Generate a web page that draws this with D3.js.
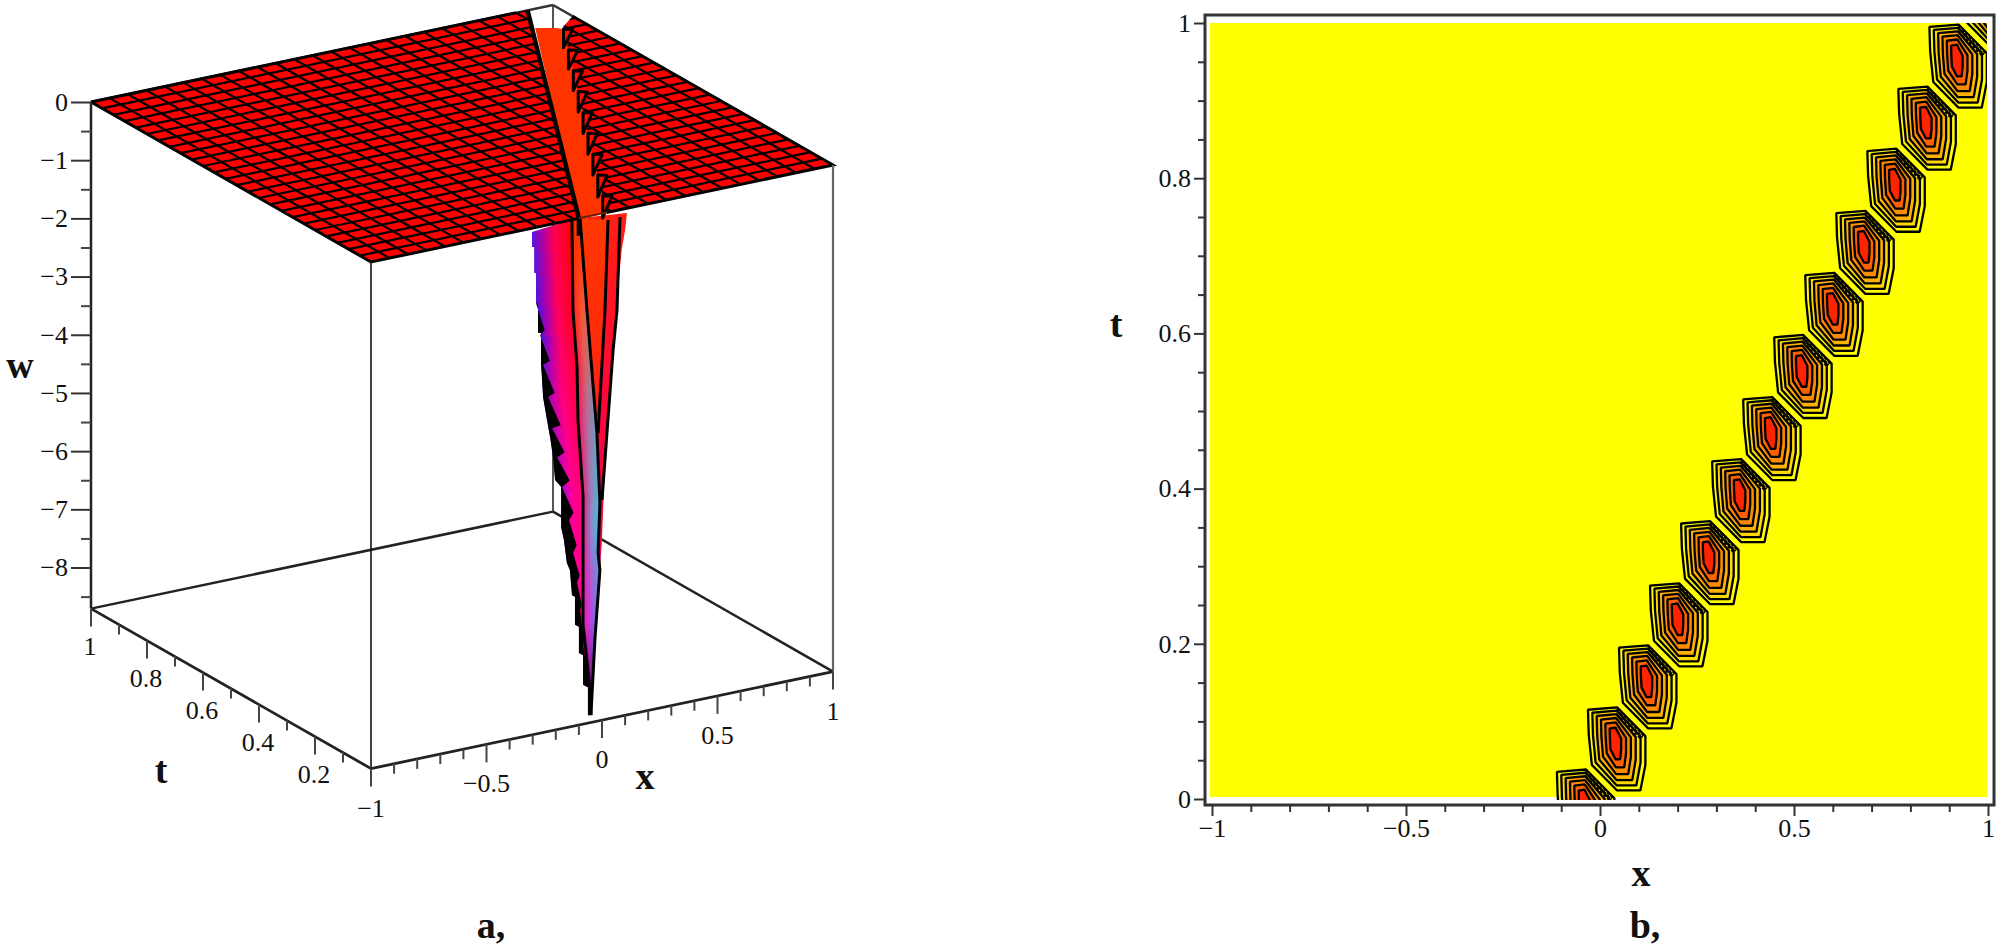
<!DOCTYPE html>
<meta charset="utf-8">
<style>
  body { margin: 0; background: #fff; }
  text { font-family: "Liberation Serif", serif; fill: #111; }
  .big { font-weight: bold; font-size: 38px; }
  .tick text { font-family: "Liberation Serif", serif; font-size: 26px; fill: #111; }
</style>
<body>
<script src="https://cdn.jsdelivr.net/npm/d3@7"></script>
<script>
// ----- data -----
var xTicks = [-1, -0.5, 0, 0.5, 1];
var xMinor = [-0.9, -0.8, -0.7, -0.6, -0.4, -0.3, -0.2, -0.1, 0.1, 0.2, 0.3, 0.4, 0.6, 0.7, 0.8, 0.9];
var tTicks3d = [0.2, 0.4, 0.6, 0.8, 1];
var tMinor3d = [0.1, 0.3, 0.5, 0.7, 0.9];
var wTicks = [0, -1, -2, -3, -4, -5, -6, -7, -8];
var wMinor = [-0.5, -1.5, -2.5, -3.5, -4.5, -5.5, -6.5, -7.5, -8.5];
var tTicks = [0, 0.2, 0.4, 0.6, 0.8, 1];
var tMinor = [0.05, 0.1, 0.15, 0.25, 0.3, 0.35, 0.45, 0.5, 0.55, 0.65, 0.7, 0.75, 0.85, 0.9, 0.95];

// surface mesh nodes (25 x 25 cells)
var meshX = [-1, -0.92, -0.84, -0.76, -0.68, -0.6, -0.52, -0.44, -0.36, -0.28, -0.2, -0.12, -0.04, 0.04, 0.12, 0.2, 0.28, 0.36, 0.44, 0.52, 0.6, 0.68, 0.76, 0.84, 0.92, 1];
var meshT = [0, 0.04, 0.08, 0.12, 0.16, 0.2, 0.24, 0.28, 0.32, 0.36, 0.4, 0.44, 0.48, 0.52, 0.56, 0.6, 0.64, 0.68, 0.72, 0.76, 0.8, 0.84, 0.88, 0.92, 0.96, 1];

// trough banks on the sheet (x, t)
var leftBankX = [-1, -1, -0.1, 0.89], leftBankT = [1, 0, 0, 1];
var rightBankX = [0.02, 1, 1, 0.91], rightBankT = [0, 0, 0.93, 0.89];
var stripeX = [0.816, 0.879, 0.9, 0.03, -0.1], stripeT = [0.912, 0.893, 0.88, 0, 0];

// spike outline, as depth w against x in the t = 0 plane
var outerLeftX = [-.303, -.303, -.294, -.294, -.286, -.286, -.277, -.277, -.264, -.264, -.255, -.238, -.225, -.212, -.203, -.177, -.177, -.165, -.152, -.139, -.130, -.117, -.117, -.100, -.100, -.082, -.082, -.061, -.061, -.048];
var outerLeftW = [-.065, -.323, -.330, -.777, -.785, -1.30, -1.31, -1.82, -1.83, -2.35, -2.94, -3.35, -3.65, -4.01, -4.41, -4.55, -5.24, -5.47, -5.88, -6.01, -6.45, -6.49, -6.97, -7.02, -7.47, -7.52, -8.03, -8.09, -8.57, -8.58];
var outerRightX = [-.048, -.043, -.030, -.009, -.001, .013, .026, .035, .052, .065, .074, .085, .100, .108];
var outerRightW = [-8.58, -8.10, -7.25, -6.12, -5.66, -4.30, -3.57, -3.23, -2.10, -1.54, -1.16, -.70, -.37, -.08];
var line1X = [-.130, -.126, -.108, -.104, -.082, -.082, -.082, -.082, -.052, -.048];
var line1W = [0, -1.55, -2.55, -3.46, -4.80, -5.74, -6.06, -7.00, -8.14, -8.58];
var line2X = [-.095, -.065, -.022, -.009, -.017, -.009, -.030, -.048];
var line2W = [0, -1.61, -3.75, -4.97, -5.82, -6.12, -7.25, -8.58];
var line3X = [.026, .013, -.017];
var line3W = [-.134, -1.67, -3.76];
var line4X = [.078, .065, .048, 0];
var line4W = [-.126, -1.71, -2.39, -4.92];
// inner edge of the black teeth on the left of the spike
var teethX = [-.286, -.248, -.268, -.226, -.255, -.205, -.233, -.179, -.216, -.162, -.194, -.140, -.173, -.123, -.143, -.110, -.125, -.097, -.108, -.087, -.095, -.078, -.082, -.065, -.048];
var teethW = [-1.30, -1.80, -1.87, -2.34, -2.39, -2.91, -2.96, -3.49, -3.51, -3.97, -4.03, -4.47, -4.56, -5.04, -5.15, -5.61, -5.73, -6.14, -6.25, -6.66, -6.74, -7.27, -7.35, -7.79, -8.58];

// little fins on the right bank of the trough
var finX = [.90, .80, .70, .60, .50, .40, .30, .20, .10];
var finT = [.88, .78, .68, .58, .48, .38, .28, .18, .08];
var finW = [-.32, -.33, -.34, -.35, -.36, -.36, -.36, -.38, -.38];

// panel b: one blob per grid period along the ridge
var blobX = [-.036, .044, .124, .204, .284, .364, .444, .524, .604, .684, .764, .844, .924, 1.004];
var blobT = [-.014, .066, .146, .226, .306, .386, .466, .546, .626, .706, .786, .866, .946, 1.026];
var ringDx = [-.075, 0, .073, .073, .06, 0, -.065, -.073];
var ringDt = [.049, .052, .015, -.022, -.055, -.055, -.022, .017];
var ringLevel = [1, .84, .68, .52, .36, .2];
var ringFill = ["#ffff00", "#ffd800", "#ffb000", "#ff8c00", "#ff6000", "#ff2400"];
var hatchLevel = [.97, .9, .82];

// ----- svg -----
var svg = d3.select("body").append("svg").attr("width", 2000).attr("height", 945);
var defs = svg.append("defs");
var path = d3.line();
function closed(pts) { return path(pts) + "Z"; }

// ----- panel a: parallel projection of (x, t, w) -----
var xToPx = d3.scaleLinear().domain([-1, 1]).range([371, 833]);
var xToPy = d3.scaleLinear().domain([-1, 1]).range([262, 165]);
var tToPx = d3.scaleLinear().domain([0, 1]).range([0, -280]);
var tToPy = d3.scaleLinear().domain([0, 1]).range([0, -160]);
var wToPy = d3.scaleLinear().domain([0, -8.706]).range([0, 506.6]);
var wMin = -8.706;
function proj(x, t, w) { return [xToPx(x) + tToPx(t), xToPy(x) + tToPy(t) + wToPy(w)]; }
function pts2(xs, ts) { return xs.map(function(x, i) { return proj(x, ts[i], 0); }); }
function section(xs, ws) { return xs.map(function(x, i) { return proj(x, 0, ws[i]); }); }

var a = svg.append("g");
function seg(p, q, color, width) {
  a.append("path").attr("d", path([p, q])).attr("stroke", color).attr("stroke-width", width).attr("fill", "none");
}

// back of the box
seg(proj(1, 1, 0), proj(1, 1, wMin), "#555", 2);
seg(proj(-1, 1, 0), proj(1, 1, 0), "#333", 2.5);
seg(proj(1, 1, 0), proj(1, 0, 0), "#333", 2.5);
seg(proj(-1, 1, wMin), proj(1, 1, wMin), "#222", 2.5);
seg(proj(1, 1, wMin), proj(1, 0, wMin), "#222", 2.5);

// orange trough floor seen from above
a.append("path").attr("d", closed(pts2(stripeX, stripeT))).attr("fill", "#ff3300");

// spike faces
var rightGrad = defs.append("linearGradient").attr("id", "faceD").attr("x1", 0).attr("x2", 0).attr("y1", 0).attr("y2", 1);
[[0, "#ff2010"], [.35, "#ff0838"], [.7, "#f00050"], [1, "#c00050"]].forEach(function(s) {
  rightGrad.append("stop").attr("offset", s[0]).attr("stop-color", s[1]);
});
a.append("path").attr("d", closed(section(line2X, line2W).concat(section(outerRightX, outerRightW)))).attr("fill", "url(#faceD)");

var cGrad = defs.append("linearGradient").attr("id", "faceC").attr("x1", 0).attr("x2", 0).attr("y1", 0).attr("y2", 1);
cGrad.append("stop").attr("offset", 0).attr("stop-color", "#ff3800");
cGrad.append("stop").attr("offset", 1).attr("stop-color", "#ff2010");
a.append("path").attr("d", closed(section(line2X.slice(0, 3), line2W.slice(0, 3)).concat(section(line3X, line3W).reverse()))).attr("fill", "url(#faceC)");

// colour changes with depth: banded strips, each with its own left-right gradient
function bandedFace(id, leftPts, rightPts, offsets, depths, colors) {
  defs.append("clipPath").attr("id", id + "Clip").append("path")
    .attr("d", closed(leftPts.concat(rightPts.slice().reverse())));
  var leftX = d3.scaleLinear().domain(leftPts.map(function(p) { return p[1]; })).range(leftPts.map(function(p) { return p[0]; })).clamp(true);
  var rightX = d3.scaleLinear().domain(rightPts.map(function(p) { return p[1]; })).range(rightPts.map(function(p) { return p[0]; })).clamp(true);
  var stopScales = offsets.map(function(o, k) {
    return d3.scaleLinear().domain(depths).range(colors.map(function(c) { return c[k]; })).clamp(true);
  });
  var g = a.append("g").attr("clip-path", "url(#" + id + "Clip)");
  d3.range(216, 716, 6).forEach(function(y, n) {
    var gid = id + "Band" + n, grad = defs.append("linearGradient").attr("id", gid);
    var depth = wToPy.invert(y - 216);
    offsets.forEach(function(o, k) {
      grad.append("stop").attr("offset", o).attr("stop-color", stopScales[k](depth));
    });
    var x0 = Math.min(leftX(y), leftX(y + 6)), x1 = Math.max(rightX(y), rightX(y + 6)) + 1;
    g.append("rect").attr("x", x0).attr("y", y).attr("width", Math.max(1, x1 - x0)).attr("height", 6.5).attr("fill", "url(#" + gid + ")");
  });
}
bandedFace("faceA", section(outerLeftX, outerLeftW), section(line1X, line1W), [0, .28, .55, 1],
  [-.27, -1.96, -4.02, -6.6, -8.57],
  [["#5818e0", "#b000a0", "#ff0050", "#ff0008"],
   ["#4c10e0", "#b400a8", "#ff0060", "#ff0020"],
   ["#6a20d8", "#d000b0", "#ff0090", "#ff0060"],
   ["#a020d0", "#f000c0", "#ff0090", "#ff00a0"],
   ["#400040", "#400040", "#400040", "#400040"]]);
bandedFace("faceB", section(line1X, line1W), section(line2X, line2W), [0, .5, 1],
  [-.27, -1.6, -3.5, -5.2, -6.9, -8.57],
  [["#ff3000", "#ff3000", "#ff3800"],
   ["#ff2010", "#ff5030", "#c87060"],
   ["#ff1060", "#b070a0", "#60a0c8"],
   ["#e02090", "#8890c8", "#30c8e8"],
   ["#ff10b0", "#c040e0", "#6080e8"],
   ["#500060", "#500060", "#300060"]]);

// black teeth on the left edge
var outerFrom = outerLeftW.findIndex(function(w) { return w <= -1.30; });
a.append("path").attr("d", closed(section(outerLeftX.slice(outerFrom), outerLeftW.slice(outerFrom)).concat(section(teethX, teethW).reverse()))).attr("fill", "#000");

// black mesh lines running down the spike
[[line1X, line1W], [line2X, line2W], [line3X, line3W], [line4X, line4W]].forEach(function(l) {
  a.append("path").attr("d", path(section(l[0], l[1]))).attr("fill", "none").attr("stroke", "#000").attr("stroke-width", 3);
});

// sheet at w = 0, clipped to each bank of the trough
defs.append("clipPath").attr("id", "leftBank").append("path").attr("d", closed(pts2(leftBankX, leftBankT)));
defs.append("clipPath").attr("id", "rightBank").append("path").attr("d", closed(pts2(rightBankX, rightBankT)));

["leftBank", "rightBank"].forEach(function(id) {
  var g = a.append("g").attr("clip-path", "url(#" + id + ")");
  g.append("path").attr("d", closed([proj(-1, 0, 0), proj(1, 0, 0), proj(1, 1, 0), proj(-1, 1, 0)])).attr("fill", "#ff0000");
  meshX.forEach(function(x) {
    g.append("path").attr("d", path([proj(x, 0, 0), proj(x, 1, 0)])).attr("stroke", "#000").attr("stroke-width", 2.2).attr("fill", "none");
  });
  meshT.forEach(function(t) {
    g.append("path").attr("d", path([proj(-1, t, 0), proj(1, t, 0)])).attr("stroke", "#000").attr("stroke-width", 2.2).attr("fill", "none");
  });
});

// sheet outline
a.append("path").attr("d", path([proj(-1, 1, 0), proj(-1, 0, 0), proj(-0.1, 0, 0)])).attr("fill", "none").attr("stroke", "#000").attr("stroke-width", 3);
a.append("path").attr("d", path([proj(-1, 1, 0), proj(0.84, 1, 0)])).attr("fill", "none").attr("stroke", "#000").attr("stroke-width", 3);
a.append("path").attr("d", path([proj(0.02, 0, 0), proj(1, 0, 0), proj(1, 0.93, 0)])).attr("fill", "none").attr("stroke", "#000").attr("stroke-width", 3);

// fins on the right bank
finX.forEach(function(x, i) {
  a.append("path")
    .attr("d", closed([proj(x, finT[i], 0), proj(x, finT[i], finW[i]), proj(x + .04, finT[i], -.04)]))
    .attr("fill", "#ff1000").attr("stroke", "#000").attr("stroke-width", 3).attr("stroke-linejoin", "round");
});

// steep left bank and its end at the front edge
a.append("path").attr("d", path([proj(0.89, 1, 0), proj(-0.1, 0, 0), proj(-0.1, 0, -0.3)])).attr("fill", "none").attr("stroke", "#000").attr("stroke-width", 4.5);
seg(proj(-0.1, 0, 0), proj(0.02, 0, 0), "#702000", 2);

// front of the box
seg(proj(-1, 0, 0), proj(-1, 0, wMin), "#111", 1.6);
seg(proj(1, 0, 0), proj(1, 0, wMin), "#666", 2.2);
seg(proj(-1, 1, 0), proj(-1, 1, wMin), "#222", 2.5);
seg(proj(-1, 1, wMin), proj(-1, 0, wMin), "#222", 2.8);
seg(proj(-1, 0, wMin), proj(1, 0, wMin), "#222", 2.8);

// w axis on the left edge
var wScale = d3.scaleLinear().domain([0, wMin]).range([proj(-1, 1, 0)[1], proj(-1, 1, wMin)[1]]);
var wAxis = svg.append("g").attr("transform", "translate(" + proj(-1, 1, 0)[0] + ",0)")
  .call(d3.axisLeft(wScale).tickValues(wTicks).tickSize(20).tickPadding(3).tickFormat(d3.format("d")));
wAxis.select(".domain").remove();
wAxis.selectAll("line").attr("stroke", "#333").attr("stroke-width", 2);
var wAxis2 = svg.append("g").attr("transform", "translate(" + proj(-1, 1, 0)[0] + ",0)")
  .call(d3.axisLeft(wScale).tickValues(wMinor).tickSize(10).tickFormat(""));
wAxis2.select(".domain").remove();
wAxis2.selectAll("line").attr("stroke", "#444").attr("stroke-width", 2);

var fmt = function(d) { return d % 1 ? d3.format(".1f")(d) : d3.format("d")(d); };

// ticks hanging from the floor edges
function hang(p, len) { seg(p, [p[0], p[1] + len], "#444", 2); }
xTicks.forEach(function(x) {
  var p = proj(x, 0, wMin);
  hang(p, 18);
  a.append("text").attr("x", p[0]).attr("y", p[1] + 18 + 21).attr("dy", ".35em").attr("text-anchor", "middle").attr("font-size", 26).text(fmt(x));
});
xMinor.forEach(function(x) { hang(proj(x, 0, wMin), 10); });
tTicks3d.forEach(function(t) {
  var p = proj(-1, t, wMin);
  hang(p, 18);
  a.append("text").attr("x", p[0] - 1).attr("y", p[1] + 18 + 19).attr("dy", ".35em").attr("text-anchor", "middle").attr("font-size", 26).text(fmt(t));
});
tMinor3d.forEach(function(t) { hang(proj(-1, t, wMin), 10); });

// titles panel a
svg.append("text").attr("class", "big").attr("x", 20).attr("y", 367).attr("dy", ".3em").attr("text-anchor", "middle").text("w");
svg.append("text").attr("class", "big").attr("x", 161).attr("y", 783).attr("text-anchor", "middle").text("t");
svg.append("text").attr("class", "big").attr("x", 645).attr("y", 789).attr("text-anchor", "middle").text("x");
svg.append("text").attr("class", "big").attr("x", 491).attr("y", 938).attr("text-anchor", "middle").text("a,");

// ----- panel b -----
var x = d3.scaleLinear().domain([-1, 1]).range([1212, 1988]);
var y = d3.scaleLinear().domain([0, 1]).range([799, 23]);
var fx0 = 1205, fx1 = 1994, fy0 = 15, fy1 = 805;

svg.append("rect").attr("x", 1210).attr("y", y(1)).attr("width", 777).attr("height", y(0) - y(1) - 2).attr("fill", "#ffff00");
defs.append("clipPath").attr("id", "plotB").append("rect").attr("x", 1210).attr("y", y(1)).attr("width", 777).attr("height", y(0) - y(1) + 1);

var b = svg.append("g").attr("clip-path", "url(#plotB)");
blobX.forEach(function(cx, n) {
  var cy = blobT[n], g = b.append("g");
  ringLevel.forEach(function(k, r) {
    // inner rings get narrow faster than they get short, so the core is a tall streak
    var ky = Math.pow(k, 0.6);
    var pts = ringDx.map(function(dx, i) {
      return [x(cx - .005 + (dx + .005) * k), y(cy + .01 + (ringDt[i] - .01) * ky)];
    });
    g.append("path").attr("d", closed(pts)).attr("fill", ringFill[r]).attr("stroke", "#000").attr("stroke-width", 2.3).attr("stroke-linejoin", "bevel");
  });
  // dense contour lines at the upper right corner
  hatchLevel.forEach(function(k) {
    var p = [x(cx + ringDx[1] * k), y(cy + ringDt[1] * k)], q = [x(cx + ringDx[2] * k), y(cy + ringDt[2] * k)];
    g.append("path").attr("d", path([p, q])).attr("stroke", "#000").attr("stroke-width", 2).attr("stroke-dasharray", "3,2").attr("fill", "none");
  });
});

svg.append("rect").attr("x", fx0).attr("y", fy0).attr("width", fx1 - fx0).attr("height", fy1 - fy0).attr("fill", "none").attr("stroke", "#333").attr("stroke-width", 3);

var xa = svg.append("g").attr("transform", "translate(0," + fy1 + ")").call(d3.axisBottom(x).tickValues(xTicks).tickSize(11).tickPadding(3).tickFormat(fmt));
var xb = svg.append("g").attr("transform", "translate(0," + fy1 + ")").call(d3.axisBottom(x).tickValues(xMinor).tickSize(7).tickFormat(""));
var ya = svg.append("g").attr("transform", "translate(" + fx0 + ",0)").call(d3.axisLeft(y).tickValues(tTicks).tickSize(11).tickPadding(3).tickFormat(fmt));
var yb = svg.append("g").attr("transform", "translate(" + fx0 + ",0)").call(d3.axisLeft(y).tickValues(tMinor).tickSize(7).tickFormat(""));
[xa, xb, ya, yb].forEach(function(ax) {
  ax.select(".domain").remove();
  ax.selectAll("line").attr("stroke", "#333").attr("stroke-width", 2);
});

svg.append("text").attr("class", "big").attr("x", 1116).attr("y", 337).attr("text-anchor", "middle").text("t");
svg.append("text").attr("class", "big").attr("x", 1641).attr("y", 886).attr("text-anchor", "middle").text("x");
svg.append("text").attr("class", "big").attr("x", 1645).attr("y", 938).attr("text-anchor", "middle").text("b,");
</script>
</body>
